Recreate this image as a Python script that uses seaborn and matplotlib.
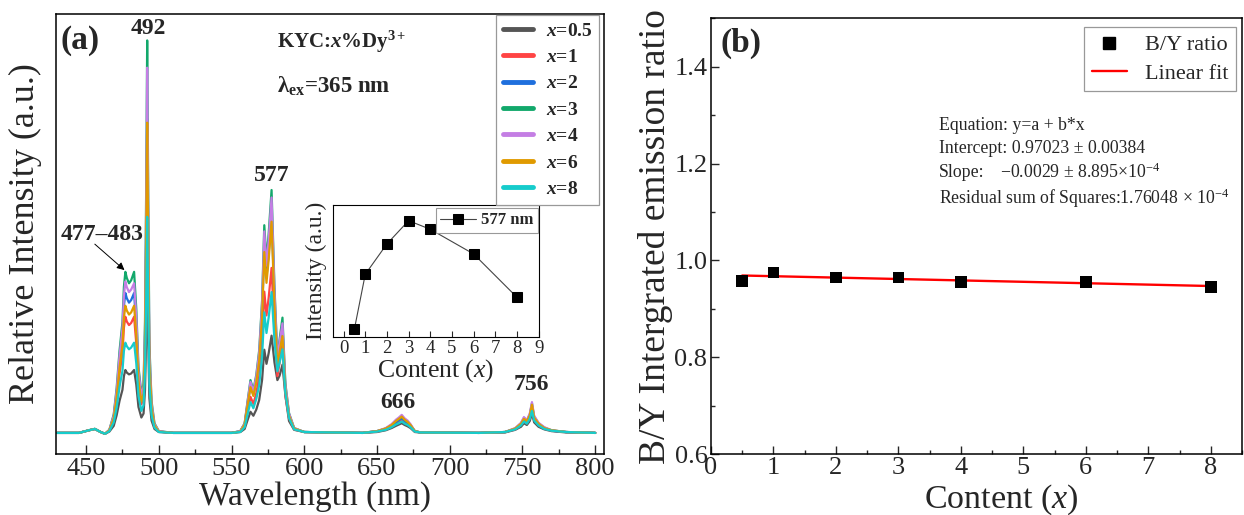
import matplotlib
matplotlib.use('Agg')
import matplotlib.pyplot as plt
import numpy as np
import pandas as pd
import seaborn as sns
from matplotlib.ticker import MultipleLocator, NullLocator, FormatStrFormatter
from matplotlib.lines import Line2D

# ---------------- data: panel (a) emission spectra ----------------
wavelength = [430, 445, 452, 456, 460, 463,
              466, 469, 471, 473, 475, 476, 477, 478, 479.5, 481, 483, 484.5, 486, 488, 489.5,
              490.5, 491.3, 492, 492.7, 493.5, 495, 497, 500,
              510, 550,
              556, 559, 561, 563, 565, 567, 569, 571, 572.5, 574, 575.5, 577.5, 579.5, 581.5,
              583, 585, 587, 589.5, 593, 600,
              640,
              650, 656, 660, 663, 665, 667, 669, 671, 673, 676, 680,
              720,
              738, 745, 749, 751, 753, 755, 756.5, 758, 761, 765, 770, 780, 800]

spec_x0_5 = [.048, .048, .054, .057, .050, .046,
             .051, .064, .088, .121, .146, .177, .191, .185, .181, .183, .191, .158, .107, .083, .092,
             .146, .263, .396, .263, .127, .076, .057, .050,
             .048, .048,
             .050, .057, .077, .096, .087, .101, .123, .169, .237, .205, .229, .269, .208, .168,
             .178, .203, .133, .075, .055, .050,
             .048,
             .050, .054, .059, .064, .067, .070, .066, .063, .059, .050, .049,
             .048,
             .049, .055, .062, .070, .066, .075, .092, .072, .062, .056, .052, .049, .048]
spec_x1 = [.048, .048, .054, .057, .050, .046,
           .053, .078, .121, .183, .229, .287, .312, .301, .293, .298, .312, .251, .156, .113, .129,
           .214, .412, .637, .412, .181, .096, .063, .051,
           .048, .048,
           .051, .063, .097, .130, .114, .138, .176, .253, .369, .315, .355, .423, .280, .177,
           .207, .252, .132, .082, .056, .050,
           .048,
           .051, .056, .062, .070, .074, .078, .072, .068, .062, .051, .049,
           .048,
           .050, .056, .066, .075, .070, .082, .102, .078, .066, .058, .053, .050, .048]
spec_x2 = [.048, .048, .054, .057, .050, .046,
           .054, .085, .137, .211, .267, .337, .366, .354, .344, .350, .366, .293, .179, .126, .145,
           .250, .490, .762, .490, .210, .106, .066, .051,
           .048, .048,
           .052, .068, .113, .156, .135, .167, .217, .320, .473, .401, .455, .545, .347, .203,
           .239, .284, .149, .089, .058, .050,
           .048,
           .052, .057, .064, .072, .077, .081, .075, .071, .064, .052, .049,
           .048,
           .050, .057, .068, .079, .073, .086, .108, .081, .068, .059, .053, .050, .048]
spec_x3 = [.048, .048, .054, .057, .050, .046,
           .055, .090, .150, .235, .300, .380, .414, .400, .388, .395, .414, .330, .198, .138, .160,
           .300, .600, .940, .600, .250, .120, .070, .052,
           .048, .048,
           .052, .070, .120, .168, .145, .180, .236, .350, .520, .440, .500, .600, .380, .220,
           .260, .310, .160, .093, .059, .050,
           .048,
           .052, .058, .066, .075, .080, .085, .078, .073, .066, .052, .049,
           .048,
           .050, .058, .070, .082, .076, .090, .115, .085, .070, .060, .054, .050, .048]
spec_x4 = [.048, .048, .054, .057, .050, .046,
           .055, .087, .144, .224, .285, .360, .392, .379, .368, .374, .388, .313, .189, .133, .153,
           .282, .561, .878, .561, .236, .115, .068, .052,
           .048, .048,
           .052, .069, .118, .164, .142, .176, .230, .341, .506, .428, .486, .583, .370, .215,
           .254, .297, .157, .092, .059, .050,
           .048,
           .052, .059, .068, .078, .083, .089, .081, .076, .068, .052, .049,
           .048,
           .050, .059, .071, .084, .077, .092, .118, .087, .071, .061, .054, .050, .048]
spec_x6 = [.048, .048, .054, .057, .050, .046,
           .054, .081, .129, .196, .247, .310, .337, .326, .317, .322, .337, .271, .167, .119, .136,
           .247, .484, .753, .484, .208, .105, .065, .051,
           .048, .048,
           .051, .067, .111, .152, .132, .163, .212, .311, .459, .389, .441, .528, .337, .198,
           .232, .268, .145, .087, .058, .050,
           .048,
           .052, .058, .066, .075, .080, .085, .078, .073, .066, .052, .049,
           .048,
           .050, .058, .069, .080, .075, .088, .112, .083, .069, .059, .054, .050, .048]
spec_x8 = [.048, .048, .054, .057, .050, .046,
           .052, .072, .105, .153, .189, .234, .253, .245, .238, .242, .253, .206, .132, .098, .111,
           .187, .352, .539, .352, .159, .088, .060, .050,
           .048, .048,
           .050, .061, .090, .118, .104, .125, .157, .223, .322, .275, .310, .368, .258, .188,
           .208, .238, .138, .082, .056, .050,
           .048,
           .051, .055, .061, .067, .070, .074, .069, .066, .061, .051, .049,
           .048,
           .050, .056, .065, .074, .069, .080, .098, .076, .065, .057, .053, .050, .048]

series_names = ['x=0.5', 'x=1', 'x=2', 'x=3', 'x=4', 'x=6', 'x=8']
series_labels = [r'$\mathbfit{x}$=0.5', r'$\mathbfit{x}$=1', r'$\mathbfit{x}$=2', r'$\mathbfit{x}$=3',
                 r'$\mathbfit{x}$=4', r'$\mathbfit{x}$=6', r'$\mathbfit{x}$=8']
series_colors = ['#555555', '#FF4444', '#1F6FDD', '#12A86B', '#C47EE4', '#E09A00', '#16CCCC']
spectra = [spec_x0_5, spec_x1, spec_x2, spec_x3, spec_x4, spec_x6, spec_x8]

peak_texts = ['477\u2013483', '492', '577', '666', '756']

# ---------------- data: inset ----------------
content = [0.5, 1, 2, 3, 4, 6, 8]
intensity_577 = [0.061, 0.475, 0.705, 0.881, 0.816, 0.629, 0.301]

# ---------------- data: panel (b) ----------------
by_ratio = [0.958, 0.975, 0.965, 0.965, 0.955, 0.955, 0.945]
fit_intercept = 0.97023
fit_slope = -0.0029

# ---------------- style ----------------
sns.set_style('ticks')
plt.rcParams['font.family'] = ['Liberation Serif', 'DejaVu Serif']
plt.rcParams['mathtext.fontset'] = 'custom'
plt.rcParams['mathtext.rm'] = 'Liberation Serif'
plt.rcParams['mathtext.it'] = 'Liberation Serif:italic'
plt.rcParams['mathtext.bf'] = 'Liberation Serif:bold'
plt.rcParams['mathtext.bfit'] = 'Liberation Serif:bold:italic'
plt.rcParams['axes.linewidth'] = 1.1

fig = plt.figure(figsize=(12.44, 5.15), dpi=100)
ax = fig.add_axes([0.045, 0.1184, 0.4405, 0.8544])
bx = fig.add_axes([0.5715, 0.1184, 0.4269, 0.846])

# ---------------- panel (a) ----------------
frames = []
for name, vals in zip(series_names, spectra):
    assert len(vals) == len(wavelength)
    frames.append(pd.DataFrame({'wl': wavelength, 'I': vals, 'series': name}))
df = pd.concat(frames, ignore_index=True)
pal = dict(zip(series_names, series_colors))
sns.lineplot(data=df, x='wl', y='I', hue='series', hue_order=series_names, palette=pal,
             estimator=None, sort=False, linewidth=1.6, ax=ax, legend=False)

ax.set_xlim(429.3, 806)
ax.set_ylim(0, 1)
ax.xaxis.set_major_locator(MultipleLocator(50))
ax.xaxis.set_minor_locator(MultipleLocator(25))
ax.yaxis.set_major_locator(NullLocator())
ax.yaxis.set_minor_locator(NullLocator())
ax.tick_params(axis='x', which='major', direction='in', length=6.5, width=1.0, labelsize=19, pad=3)
ax.tick_params(axis='x', which='minor', direction='in', length=3.5, width=1.0)
ax.set_xlabel('Wavelength (nm)', fontsize=24)
ax.xaxis.set_label_coords(0.473, -0.096, transform=ax.transAxes)
ax.xaxis.label.set_va('center')
ax.set_ylabel('Relative Intensity (a.u.)', fontsize=26, labelpad=10)
for s in ax.spines.values():
    s.set_visible(True)
    s.set_color('black')

handles = [Line2D([0], [0], color=c, lw=3.5) for c in series_colors]
leg = ax.legend(handles, series_labels, loc='upper right', bbox_to_anchor=(0.991, 0.997),
                prop={'family': 'Liberation Serif', 'weight': 'bold', 'size': 14},
                frameon=True, fancybox=False, edgecolor='#999999', framealpha=1,
                handlelength=1.55, handletextpad=0.65, labelspacing=0.45, borderpad=0.35,
                borderaxespad=0)
leg.get_frame().set_linewidth(0.9)

bold = dict(fontweight='bold', fontsize=17, ha='center', va='center')
ax.text(461.0, 0.498, peak_texts[0], **bold)
ax.text(492.8, 0.968, peak_texts[1], **bold)
ax.text(577.7, 0.634, peak_texts[2], **bold)
ax.text(664.6, 0.118, peak_texts[3], **bold)
ax.text(756.4, 0.157, peak_texts[4], **bold)
ax.annotate('', xy=(476.4, 0.418), xytext=(456.0, 0.477),
            arrowprops=dict(arrowstyle='-|>', color='black', lw=0.7, mutation_scale=11,
                            shrinkA=0, shrinkB=0))
ax.text(0.008, 0.94, '(a)', transform=ax.transAxes, fontsize=24, fontweight='bold',
        ha='left', va='center')
ax.text(0.403, 0.936, r'KYC:$\mathbfit{x}$%Dy$^{\mathbf{3+}}$', transform=ax.transAxes,
        fontsize=15, fontweight='bold', ha='left', va='center')
ax.text(0.403, 0.836, r'λ$_{\mathbf{ex}}$=365 nm', transform=ax.transAxes,
        fontsize=16.5, fontweight='bold', ha='left', va='center')

# ---------------- inset ----------------
ins = ax.inset_axes([0.5055, 0.266, 0.376, 0.30])
sns.lineplot(x=content, y=intensity_577, ax=ins, color='#444444', lw=0.8, marker='s',
             markersize=6.5, markerfacecolor='black', markeredgecolor='black',
             label='577 nm', legend=False)
ins.set_xlim(-0.49, 9.02)
ins.set_ylim(0, 1)
ins.xaxis.set_major_locator(MultipleLocator(1))
ins.yaxis.set_major_locator(NullLocator())
ins.tick_params(axis='x', direction='in', length=4, width=0.8, labelsize=13.5, pad=2)
for s in ins.spines.values():
    s.set_color('black')
    s.set_linewidth(0.8)
ins.set_xlabel(r'Content ($x$)', fontsize=18.5, labelpad=0)
ins.set_ylabel('Intensity (a.u.)', fontsize=17, labelpad=4)
il = ins.legend(loc='upper right', bbox_to_anchor=(0.995, 0.975), borderaxespad=0,
                prop={'family': 'Liberation Serif', 'weight': 'bold', 'size': 12},
                frameon=True, fancybox=False, edgecolor='#999999', framealpha=1,
                handlelength=2.2, handletextpad=0.3, borderpad=0.25)
il.get_frame().set_linewidth(0.8)

# ---------------- panel (b) ----------------
fit_x = [content[0], content[-1]]
fit_y = [fit_intercept + fit_slope * v for v in fit_x]
sns.lineplot(x=fit_x, y=fit_y, ax=bx, color='red', lw=1.7, label='Linear fit', legend=False, zorder=2)
sns.scatterplot(x=content, y=by_ratio, ax=bx, marker='s', s=70, color='black',
                edgecolor='none', label='B/Y ratio', legend=False, zorder=3)
bx.set_xlim(0, 8.5)
bx.set_ylim(0.6, 1.5)
bx.xaxis.set_major_locator(MultipleLocator(1))
bx.xaxis.set_minor_locator(MultipleLocator(0.5))
bx.yaxis.set_major_locator(MultipleLocator(0.2))
bx.yaxis.set_minor_locator(MultipleLocator(0.1))
bx.yaxis.set_major_formatter(FormatStrFormatter('%.1f'))
bx.tick_params(which='major', direction='in', length=5.5, width=1.0, labelsize=19, pad=2.5)
bx.tick_params(which='minor', direction='in', length=3, width=1.0)
bx.set_xlabel(r'Content ($x$)', fontsize=24.5)
bx.xaxis.set_label_coords(0.546, -0.104, transform=bx.transAxes)
bx.xaxis.label.set_va('center')
bx.set_ylabel('B/Y Intergrated emission ratio', fontsize=27, labelpad=1)
for s in bx.spines.values():
    s.set_visible(True)
    s.set_color('black')

bh = [Line2D([0], [0], ls='none', marker='s', markersize=8, color='black'),
      Line2D([0], [0], color='red', lw=1.7)]
bl = bx.legend(bh, ['B/Y ratio', 'Linear fit'], loc='upper right', bbox_to_anchor=(0.989, 0.98),
               borderaxespad=0, prop={'family': 'Liberation Serif', 'size': 16},
               frameon=True, fancybox=False, edgecolor='#999999', framealpha=1,
               handlelength=1.6, handletextpad=0.8, labelspacing=0.35, borderpad=0.35)
bl.get_frame().set_linewidth(0.9)

bx.text(0.018, 0.943, '(b)', transform=bx.transAxes, fontsize=24, fontweight='bold',
        ha='left', va='center')
tx = 0.429
fs = 12.8
bx.text(tx, 0.755, 'Equation: y=a + b*x', transform=bx.transAxes, fontsize=fs, va='center')
bx.text(tx, 0.701, 'Intercept: 0.97023 \u00b1 0.00384', transform=bx.transAxes, fontsize=fs, va='center')
bx.text(tx, 0.647, 'Slope:', transform=bx.transAxes, fontsize=fs, va='center')
bx.text(0.544, 0.647, '\u22120.0029 \u00b1 8.895\u00d710$^{-4}$', transform=bx.transAxes,
        fontsize=fs, va='center')
bx.text(tx, 0.5876, 'Residual sum of Squares:1.76048 \u00d7 10$^{-4}$', transform=bx.transAxes,
        fontsize=fs, va='center')

fig.savefig('out.png', dpi=100)
